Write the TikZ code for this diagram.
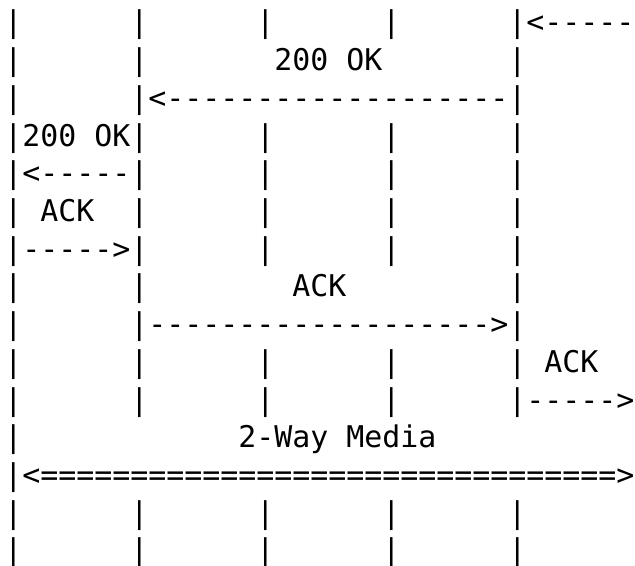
\documentclass[tikz,border=0pt]{standalone}
\usepackage{fontspec}
\setmonofont{DejaVu Sans Mono}

\begin{document}
\begin{tikzpicture}[x=13.5pt, y=-28.275pt,
  every node/.style={inner sep=0pt, anchor=base west,
    font=\ttfamily\fontsize{22.43pt}{28pt}\selectfont}]
\useasboundingbox (-3pt,24.75pt) rectangle (473.25pt,-399.75pt);
% lifelines, one bar per row
\foreach \r in {0,...,14} \node (a-\r) at (0,\r) {|};
\foreach \r in {0,...,10,13,14} \node (b-\r) at (7,\r) {|};
\foreach \r in {0,3,4,5,6,9,10,13,14} \node (c-\r) at (14,\r) {|};
\foreach \r in {0,3,4,5,6,9,10,13,14} \node (d-\r) at (21,\r) {|};
\foreach \r in {0,...,10,13,14} \node (e-\r) at (28,\r) {|};
% messages
\node (okE) at (29,0) {<-----};
\node (okDlabel) at (15,1) {200 OK};
\node (okD) at (8,2) {<-------------------};
\node (okBlabel) at (1,3) {200 OK};
\node (okB) at (1,4) {<-----};
\node (ackBlabel) at (2,5) {ACK};
\node (ackB) at (1,6) {----->};
\node (ackDlabel) at (16,7) {ACK};
\node (ackD) at (8,8) {------------------->};
\node (ackElabel) at (30,9) {ACK};
\node (ackE) at (29,10) {----->};
\node (medialabel) at (13,11) {2-Way Media};
\node (media) at (1,12) {<================================>};
\end{tikzpicture}
\end{document}
